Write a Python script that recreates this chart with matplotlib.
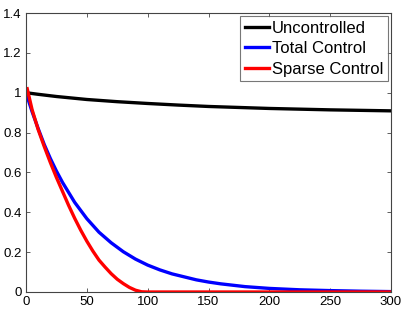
import matplotlib
matplotlib.use("Agg")
import matplotlib.pyplot as plt

# Data
unc_t = [0, 10, 25, 50, 75, 100, 125, 150, 175, 200, 250, 300]
unc_y = [1.0, 0.992, 0.981, 0.966, 0.955, 0.946, 0.938, 0.931, 0.926, 0.921, 0.914, 0.909]

tot_t = [0, 5, 10, 15, 20, 25, 30, 40, 50, 60, 70, 80, 90, 100, 110, 120, 140, 150, 160, 180, 200, 225, 250, 275, 300]
tot_y = [1.0, 0.905, 0.82, 0.74, 0.67, 0.607, 0.55, 0.45, 0.368, 0.30, 0.247, 0.202, 0.165, 0.135, 0.111, 0.091, 0.061, 0.05, 0.041, 0.027, 0.018, 0.011, 0.007, 0.004, 0.002]

sp_t = [1, 5, 10, 15, 20, 25, 30, 35, 40, 45, 50, 55, 60, 65, 70, 75, 80, 85, 90, 95, 100, 300]
sp_y = [1.02, 0.915, 0.815, 0.73, 0.65, 0.575, 0.505, 0.435, 0.37, 0.31, 0.255, 0.205, 0.16, 0.125, 0.092, 0.064, 0.042, 0.023, 0.009, 0.001, 0.0, 0.0]

xticks = [0, 50, 100, 150, 200, 250, 300]
yticks = [0, 0.2, 0.4, 0.6, 0.8, 1.0, 1.2, 1.4]
ytick_labels = ["0", "0.2", "0.4", "0.6", "0.8", "1", "1.2", "1.4"]

plt.rcParams['font.family'] = ['Liberation Sans', 'DejaVu Sans']

fig = plt.figure(figsize=(4.07, 3.14), dpi=100)
ax = fig.add_axes([26/407, 1 - 292/314, 365/407, 279/314])

ax.plot(unc_t, unc_y, color='black', lw=2.4, label='Uncontrolled')
ax.plot(tot_t, tot_y, color='#0000ff', lw=2.4, label='Total Control')
ax.plot(sp_t, sp_y, color='#ff0000', lw=2.4, label='Sparse Control')

ax.set_xlim(0, 300)
ax.set_ylim(0, 1.4)
ax.set_xticks(xticks)
ax.set_xticklabels([str(v) for v in xticks])
ax.set_yticks(yticks)
ax.set_yticklabels(ytick_labels)
ax.tick_params(direction='in', top=True, right=True, length=3, width=0.6,
               labelsize=9.5, color='#444444', pad=3)
for s in ax.spines.values():
    s.set_color('#444444')
    s.set_linewidth(0.8)

leg = ax.legend(loc='upper right', fontsize=12, frameon=True, fancybox=False,
                handlelength=1.48, handletextpad=0.16, borderpad=0.26,
                labelspacing=0.33, borderaxespad=0.2)
leg.get_frame().set_edgecolor('#555555')
leg.get_frame().set_linewidth(0.8)

fig.savefig('out.png', dpi=100)
